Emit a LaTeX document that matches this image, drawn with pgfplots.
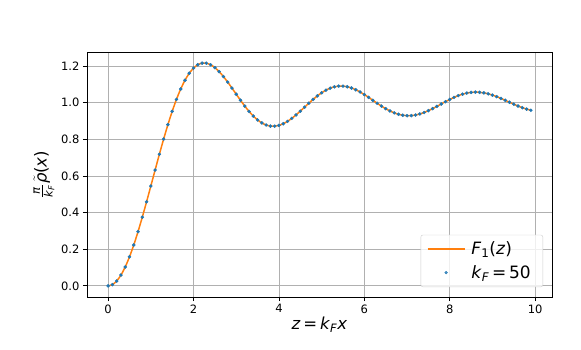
\documentclass[border=0pt]{standalone}
\usepackage{fontspec}
\setmainfont{DejaVu Sans}
\usepackage{amsmath}
\usepackage{pgfplots}
\pgfplotsset{compat=1.18}
\definecolor{mplblue}{HTML}{1F77B4}
\definecolor{mplorange}{HTML}{FF7F0E}
\definecolor{gridgray}{HTML}{B0B0B0}

\pgfplotsset{
  lineleg/.style={legend image code/.code={\draw[mplorange, line width=1.5pt] (0pt,0pt) -- (37pt,0pt);}},
  dotleg/.style={legend image code/.code={\fill[mplblue] (18.5pt,0pt) circle (1.4pt);}},
}

% density profile, sampled at z = 0, 0.1, ..., 9.9
\pgfplotstableread{
z f
0.0 0.00000
0.1 0.00665
0.2 0.02645
0.3 0.05893
0.4 0.10331
0.5 0.15853
0.6 0.22330
0.7 0.29611
0.8 0.37527
0.9 0.45897
1.0 0.54535
1.1 0.63250
1.2 0.71856
1.3 0.80173
1.4 0.88036
1.5 0.95296
1.6 1.01824
1.7 1.07516
1.8 1.12292
1.9 1.16102
2.0 1.18920
2.1 1.20752
2.2 1.21627
2.3 1.21602
2.4 1.20753
2.5 1.19178
2.6 1.16990
2.7 1.14310
2.8 1.11273
2.9 1.08010
3.0 1.04657
3.1 1.01340
3.2 0.98179
3.3 0.95280
3.4 0.92734
3.5 0.90614
3.6 0.88977
3.7 0.87855
3.8 0.87264
3.9 0.87198
4.0 0.87633
4.1 0.88528
4.2 0.89826
4.3 0.91460
4.4 0.93353
4.5 0.95421
4.6 0.97577
4.7 0.99736
4.8 1.01816
4.9 1.03740
5.0 1.05440
5.1 1.06862
5.2 1.07960
5.3 1.08705
5.4 1.09083
5.5 1.09091
5.6 1.08743
5.7 1.08064
5.8 1.07093
5.9 1.05877
6.0 1.04471
6.1 1.02936
6.2 1.01336
6.3 0.99733
6.4 0.98191
6.5 0.96768
6.6 0.95515
6.7 0.94475
6.8 0.93683
6.9 0.93162
7.0 0.92924
7.1 0.92972
7.2 0.93294
7.3 0.93871
7.4 0.94674
7.5 0.95665
7.6 0.96800
7.7 0.98032
7.8 0.99309
7.9 1.00582
8.0 1.01799
8.1 1.02916
8.2 1.03889
8.3 1.04689
8.4 1.05283
8.5 1.05655
8.6 1.05796
8.7 1.05705
8.8 1.05391
8.9 1.04872
9.0 1.04172
9.1 1.03323
9.2 1.02362
9.3 1.01328
9.4 1.00264
9.5 0.99211
9.6 0.98212
9.7 0.97304
9.8 0.96521
9.9 0.95891
}\densitytable

\begin{document}
\begin{tikzpicture}
\useasboundingbox (-87pt,-52pt) rectangle (494pt,297pt);
\begin{axis}[
  at={(0pt,0pt)}, anchor=south west,
  width=465pt, height=245pt, scale only axis,
  xmin=-0.495, xmax=10.395, ymin=-0.0608, ymax=1.2771,
  xtick={0,2,4,6,8,10},
  ytick={0,0.2,0.4,0.6,0.8,1.0,1.2},
  yticklabel style={/pgf/number format/.cd, fixed, fixed zerofill, precision=1},
  /pgf/number format/assume math mode=true,
  tick label style={font=\fontsize{11.5}{13}\selectfont},
  tick align=outside, tick pos=left,
  major tick length=4pt,
  every tick/.style={black, line width=0.8pt},
  axis line style={line width=0.8pt},
  grid=major, grid style={gridgray, line width=0.8pt},
  label style={font=\fontsize{16.5}{19}\selectfont},
  xlabel={\textit{z}\,=\,\textit{k}\textsubscript{\textit{F}}\textit{x}},
  xlabel style={at={(axis description cs:0.5,-0.112)}, anchor=center},
  ylabel={$\frac{\text{\itshape π}}{\text{\itshape k}_{\text{\itshape F}}}\tilde{\text{\itshape ρ}}$(\textit{x})},
  ylabel style={at={(axis description cs:-0.0925,0.5)}, anchor=center},
  legend cell align=left,
  legend style={at={(axis description cs:1,0)}, anchor=south east,
    xshift=-9pt, yshift=10pt, draw=black!20, fill=white, fill opacity=0.8,
    text opacity=1, rounded corners=2pt, inner xsep=6pt, inner ysep=5pt,
    row sep=5pt, font=\fontsize{17}{20}\selectfont,
    nodes={inner xsep=6pt}},
]
\addplot[mplorange, line width=1.5pt, smooth, no markers, lineleg]
  table[x=z, y=f] {\densitytable};
\addlegendentry{\textit{F}\textsubscript{1}(\textit{z})}
\addplot[only marks, mark=*, mark size=1.55pt, mplblue,
  mark options={draw=mplblue, fill=mplblue}, dotleg]
  table[x=z, y=f] {\densitytable};
\addlegendentry{\textit{k}\textsubscript{\textit{F}}\,=\,50}
\end{axis}
\end{tikzpicture}
\end{document}
